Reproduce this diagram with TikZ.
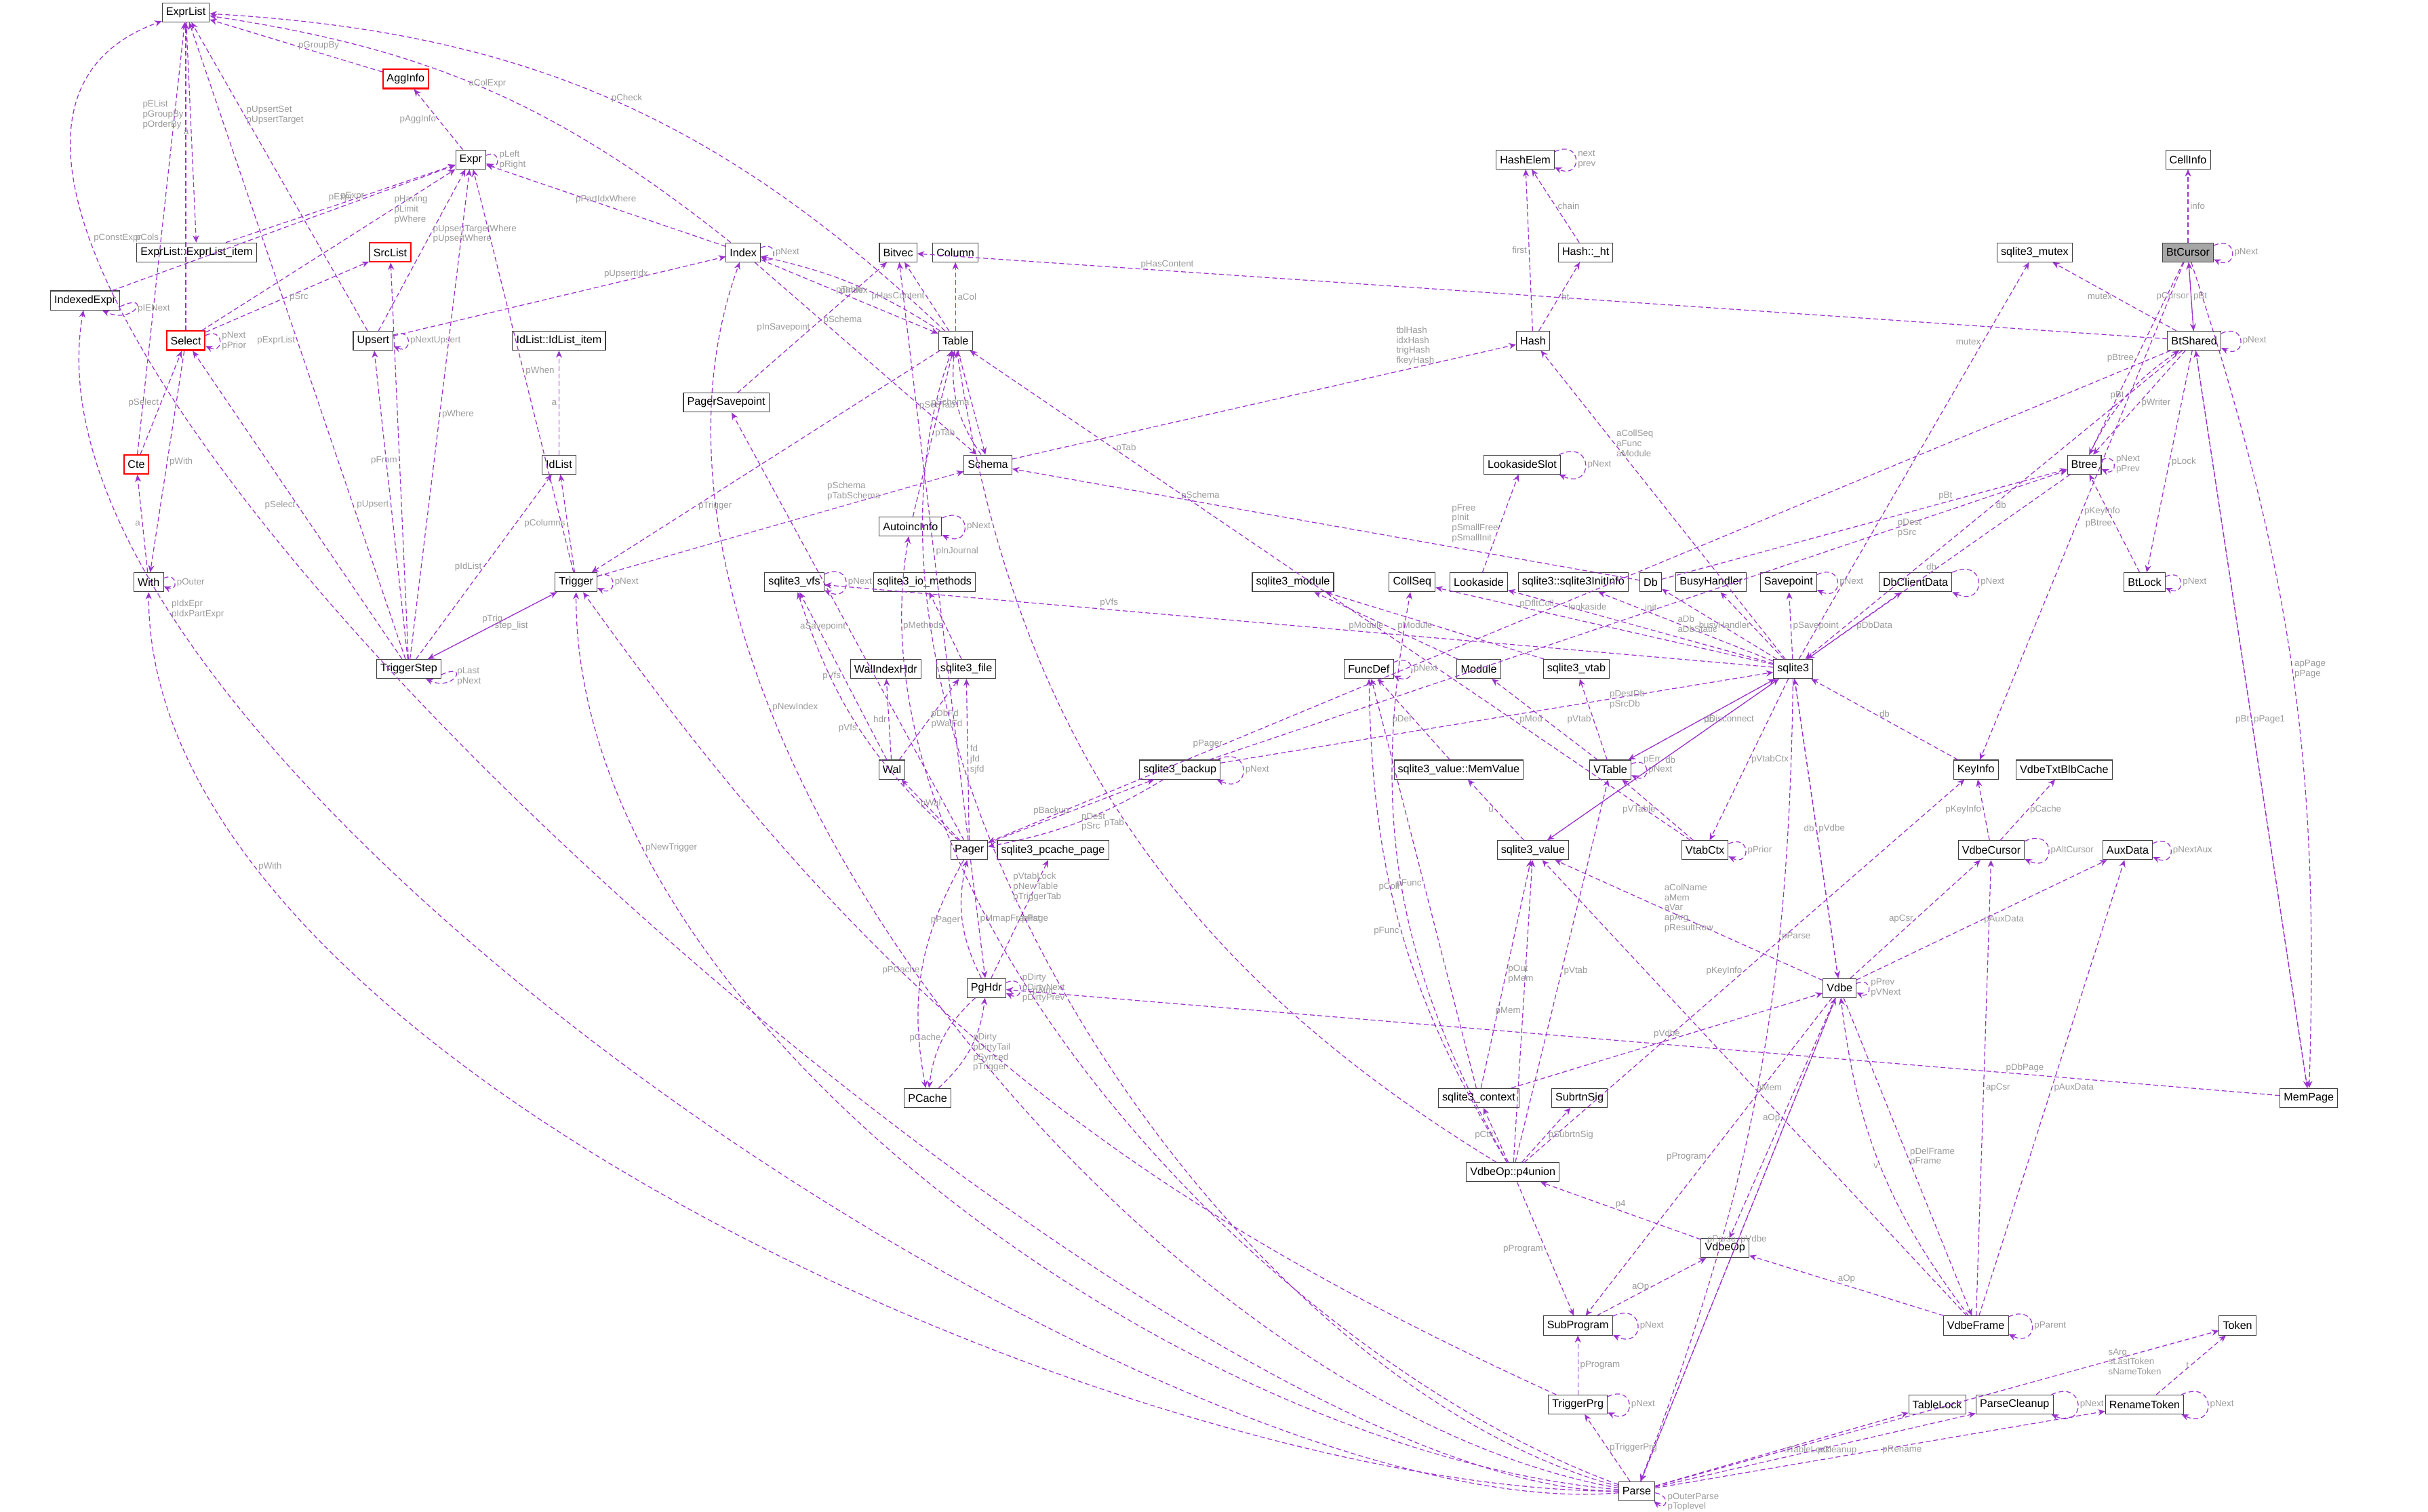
\documentclass[tikz,border=0pt]{standalone}
\usepackage{fontspec}
\setmainfont{Liberation Sans}
\usepackage{xcolor}
\usepackage{tikz}
\usetikzlibrary{arrows.meta}
\definecolor{edgec}{HTML}{9A32CD}
\definecolor{lblc}{HTML}{9A9A9A}
\tikzset{
  cls/.style={draw=black!75, fill=white, font=\fontsize{4.6}{5}\selectfont, inner sep=1.6pt, minimum height=8pt, line width=0.3pt},
  redcls/.style={cls, draw=red, line width=0.6pt},
  focus/.style={cls, fill=gray!70},
  dep/.style={draw=edgec, dashed, line width=0.35pt, dash pattern=on 2pt off 1.2pt, -{Stealth[length=3pt,width=2.6pt]}},
  lbl/.style={font=\fontsize{3.8}{4.2}\selectfont, text=lblc, inner sep=0.8pt, align=left},
  selfr/.style={out=25, in=-25, looseness=5},
}
\begin{document}
\begin{tikzpicture}[x=0.2284mm, y=-0.2284mm]
\useasboundingbox (0,0) rectangle (1568,976);
% nodes, left part
\node[cls] (exprlist) at (120,8) {ExprList};
\node[redcls] (agginfo) at (262,51) {AggInfo};
\node[cls] (expr) at (304,103) {Expr};
\node[cls] (exprlistitem) at (127,163) {ExprList::ExprList\_item};
\node[cls] (indexedexpr) at (55,194) {IndexedExpr};
\node[redcls] (srclist) at (252,163) {SrcList};
\node[redcls] (select) at (120,220) {Select};
\node[cls] (upsert) at (241,220) {Upsert};
\node[cls] (index) at (480,163) {Index};
\node[cls] (bitvec) at (580,163) {Bitvec};
\node[cls] (column) at (617,163) {Column};
\node[cls] (table) at (617,220) {Table};
\node[cls] (idlistitem) at (361,220) {IdList::IdList\_item};
\node[cls] (pagersavepoint) at (469,260) {PagerSavepoint};
\node[cls] (schema) at (638,300) {Schema};
\node[cls] (idlist) at (361,300) {IdList};
\node[redcls] (cte) at (88,300) {Cte};
\node[cls] (with) at (96,376) {With};
\node[cls] (trigger) at (372,376) {Trigger};
\node[cls] (triggerstep) at (264,432) {TriggerStep};
\node[cls] (autoincinfo) at (588,340) {AutoincInfo};
\node[cls] (vfs) at (513,376) {sqlite3\_vfs};
\node[cls] (iomethods) at (597,376) {sqlite3\_io\_methods};
\node[cls] (walindexhdr) at (572,432) {WalIndexHdr};
\node[cls] (file) at (624,432) {sqlite3\_file};
\node[cls] (wal) at (576,497) {Wal};
\node[cls] (pager) at (626,549) {Pager};
\node[cls] (pcachepage) at (680,549) {sqlite3\_pcache\_page};
\node[cls] (backup) at (762,497) {sqlite3\_backup};
\node[cls] (pghdr) at (637,638) {PgHdr};
\node[cls] (pcache) at (599,709) {PCache};
% nodes, middle part
\node[cls] (module) at (835,376) {sqlite3\_module};
\node[cls] (collseq) at (912,376) {CollSeq};
\node[cls] (lookaside) at (955,376) {Lookaside};
\node[cls] (initinfo) at (1016,376) {sqlite3::sqlite3InitInfo};
\node[cls] (db) at (1066,376) {Db};
\node[cls] (busyhandler) at (1105,376) {BusyHandler};
\node[cls] (savepoint) at (1155,376) {Savepoint};
\node[cls] (dbclientdata) at (1237,376) {DbClientData};
\node[cls] (funcdef) at (884,432) {FuncDef};
\node[cls] (vmodule) at (955,432) {Module};
\node[cls] (vtab) at (1018,432) {sqlite3\_vtab};
\node[cls] (sqlite) at (1158,432) {sqlite3};
\node[cls] (lookasideslot) at (983,300) {LookasideSlot};
\node[cls] (hashelem) at (985,103) {HashElem};
\node[cls] (hashht) at (1024,163) {Hash::\_ht};
\node[cls] (hash) at (990,220) {Hash};
\node[cls] (mutex) at (1314,163) {sqlite3\_mutex};
\node[focus] (btcursor) at (1413,163) {BtCursor};
\node[cls] (cellinfo) at (1413,103) {CellInfo};
\node[cls] (btshared) at (1417,220) {BtShared};
\node[cls] (btree) at (1346,300) {Btree};
\node[cls] (btlock) at (1385,376) {BtLock};
\node[cls] (vtable) at (1040,497) {VTable};
\node[cls] (memvalue) at (942,497) {sqlite3\_value::MemValue};
\node[cls] (vtabctx) at (1101,549) {VtabCtx};
\node[cls] (value) at (990,549) {sqlite3\_value};
\node[cls] (keyinfo) at (1276,497) {KeyInfo};
\node[cls] (txtblb) at (1333,497) {VdbeTxtBlbCache};
\node[cls] (vdbecursor) at (1286,549) {VdbeCursor};
\node[cls] (auxdata) at (1374,549) {AuxData};
\node[cls] (vdbe) at (1188,638) {Vdbe};
\node[cls] (mempage) at (1491,709) {MemPage};
\node[cls] (context) at (955,709) {sqlite3\_context};
\node[cls] (subrtnsig) at (1020,709) {SubrtnSig};
\node[cls] (p4union) at (977,757) {VdbeOp::p4union};
\node[cls] (vdbeop) at (1114,806) {VdbeOp};
\node[cls] (subprogram) at (1019,856) {SubProgram};
\node[cls] (vdbeframe) at (1276,856) {VdbeFrame};
\node[cls] (token) at (1445,856) {Token};
\node[cls] (triggerprg) at (1019,907) {TriggerPrg};
\node[cls] (tablelock) at (1251,907) {TableLock};
\node[cls] (parsecleanup) at (1301,907) {ParseCleanup};
\node[cls] (renametoken) at (1385,907) {RenameToken};
\node[cls] (parse) at (1057,963) {Parse};
% expression edges
\draw[dep] (cte) -- node[lbl,left]{pCols} (exprlist);
\draw[dep] (select) -- node[lbl,left,pos=0.7]{pEList\\pGroupBy\\pOrderBy} (exprlist);
\draw[dep] (index) to[bend right=15] node[lbl,above]{aColExpr} (exprlist);
\draw[dep] (table) to[bend right=20] node[lbl,right]{pCheck} (exprlist);
\draw[dep] (agginfo) -- node[lbl,right]{pGroupBy} (exprlist);
\draw[dep] (upsert) -- node[lbl,right,pos=0.7]{pUpsertSet\\pUpsertTarget} (exprlist);
\draw[dep] (exprlist) -- node[lbl,left]{a} (exprlistitem);
\draw[dep] (exprlistitem) -- node[lbl,above]{pExpr} (expr);
\draw[dep] (expr) -- node[lbl,left]{pAggInfo} (agginfo);
\draw[dep] (expr.15) to[selfr] node[lbl,right]{pLeft\\pRight} (expr.-15);
\draw[dep] (indexedexpr) -- node[lbl,above,pos=0.7]{pExpr} (expr);
\draw[dep] (indexedexpr.-10) to[selfr] node[lbl,right]{pIENext} (indexedexpr.-30);
\draw[dep] (select) -- node[lbl,right,pos=0.75]{pHaving\\pLimit\\pWhere} (expr);
\draw[dep] (select) -- node[lbl,right]{pSrc} (srclist);
\draw[dep] (select.15) to[selfr] node[lbl,right]{pNext\\pPrior} (select.-15);
\draw[dep] (select) -- node[lbl,right]{pWith} (with);
\draw[dep] (upsert) -- node[lbl,right,pos=0.6]{pUpsertTargetWhere\\pUpsertWhere} (expr);
\draw[dep] (upsert) -- node[lbl,above,pos=0.7]{pUpsertIdx} (index);
\draw[dep] (upsert.15) to[selfr] node[lbl,right]{pNextUpsert} (upsert.-15);
\draw[dep] (index) -- node[lbl,above]{pPartIdxWhere} (expr);
\draw[dep] (index.15) to[selfr] node[lbl,right]{pNext} (index.-15);
\draw[dep] (index) -- node[lbl,above]{pTable} (table);
\draw[dep] (index) -- node[lbl,right,pos=0.3]{pSchema} (schema);
\draw[dep] (table) to[bend right=10] node[lbl,below]{pIndex} (index);
\draw[dep] (table) -- node[lbl,left]{pSchema} (schema);
\draw[dep] (table) -- node[lbl,right]{aCol} (column);
\draw[dep] (table) -- node[lbl,right,pos=0.7]{pTrigger} (trigger);
\draw[dep] (table) -- node[lbl,left]{pHasContent} (bitvec);
\draw[dep] (schema) to[bend left=20] node[lbl,left]{pSeqTab} (table);
\draw[dep] (schema) -- node[lbl,above,pos=0.8]{tblHash\\idxHash\\trigHash\\fkeyHash} (hash);
\draw[dep] (trigger) -- node[lbl,right]{pWhen} (expr);
\draw[dep] (trigger) -- node[lbl,left]{pColumns} (idlist);
\draw[dep] (trigger) -- node[lbl,above,pos=0.7]{pSchema\\pTabSchema} (schema);
\draw[dep] (trigger) -- node[lbl,right]{step\_list} (triggerstep);
\draw[dep] (trigger.15) to[selfr] node[lbl,right]{pNext} (trigger.-15);
\draw[dep] (triggerstep) -- node[lbl,above]{pTrig} (trigger);
\draw[dep] (triggerstep.-10) to[selfr] node[lbl,right]{pLast\\pNext} (triggerstep.-30);
\draw[dep] (triggerstep) -- node[lbl,right]{pWhere} (expr);
\draw[dep] (triggerstep) -- node[lbl,left]{pExprList} (exprlist);
\draw[dep] (triggerstep) -- node[lbl,left]{pFrom} (srclist);
\draw[dep] (triggerstep) -- node[lbl,left]{pSelect} (select);
\draw[dep] (triggerstep) -- node[lbl,left]{pUpsert} (upsert);
\draw[dep] (triggerstep) -- node[lbl,left]{pIdList} (idlist);
\draw[dep] (idlist) -- node[lbl,left]{a} (idlistitem);
\draw[dep] (cte) -- node[lbl,left]{pSelect} (select);
\draw[dep] (with) -- node[lbl,left]{a} (cte);
\draw[dep] (with.15) to[selfr] node[lbl,right]{pOuter} (with.-15);
% pager edges
\draw[dep] (pagersavepoint) -- node[lbl,left]{pInSavepoint} (bitvec);
\draw[dep] (autoincinfo) -- node[lbl,right]{pTab} (table);
\draw[dep] (autoincinfo.15) to[selfr] node[lbl,right]{pNext} (autoincinfo.-15);
\draw[dep] (vfs.15) to[selfr] node[lbl,right]{pNext} (vfs.-15);
\draw[dep] (file) -- node[lbl,left]{pMethods} (iomethods);
\draw[dep] (wal) -- node[lbl,left]{pVfs} (vfs);
\draw[dep] (wal) -- node[lbl,left]{hdr} (walindexhdr);
\draw[dep] (wal) -- node[lbl,right]{pDbFd\\pWalFd} (file);
\draw[dep] (pager) -- node[lbl,above]{pWal} (wal);
\draw[dep] (pager) -- node[lbl,right]{fd\\jfd\\sjfd} (file);
\draw[dep] (pager) to[bend left=15] node[lbl,left]{pVfs} (vfs);
\draw[dep] (pager) -- node[lbl,left]{aSavepoint} (pagersavepoint);
\draw[dep] (pager) -- node[lbl,right]{pInJournal} (bitvec);
\draw[dep] (pager) -- node[lbl,left]{pBackup} (backup);
\draw[dep] (pager) -- node[lbl,right]{pMmapFreelist} (pghdr);
\draw[dep] (pager) to[bend right=20] node[lbl,left]{pPCache} (pcache);
\draw[dep] (pghdr) to[bend left=20] node[lbl,left]{pPager} (pager);
\draw[dep] (pghdr) -- node[lbl,right]{pPage} (pcachepage);
\draw[dep] (pghdr.15) to[selfr] node[lbl,right]{pDirty\\pDirtyNext\\pDirtyPrev} (pghdr.-15);
\draw[dep] (pghdr) to[bend right=20] node[lbl,left]{pCache} (pcache);
\draw[dep] (pcache) to[bend right=20] node[lbl,right]{pDirty\\pDirtyTail\\pSynced} (pghdr);
\draw[dep] (backup) to[bend left=10] node[lbl,right]{pDest\\pSrc} (pager);
\draw[dep] (backup) -- node[lbl,right,pos=0.7]{pDestDb\\pSrcDb} (sqlite);
\draw[dep] (backup.15) to[selfr] node[lbl,right]{pNext} (backup.-15);
\draw[dep] (backup) -- node[lbl,right,pos=0.8]{pDest\\pSrc} (btree);
% sqlite3 edges
\draw[dep] (sqlite) -- node[lbl,above,pos=0.7]{pVfs} (vfs);
\draw[dep] (sqlite) -- node[lbl,above,pos=0.7]{pDfltColl} (collseq);
\draw[dep] (sqlite) -- node[lbl,above,pos=0.7]{lookaside} (lookaside);
\draw[dep] (sqlite) -- node[lbl,above,pos=0.7]{init} (initinfo);
\draw[dep] (sqlite) -- node[lbl,left]{aDb\\aDbStatic} (db);
\draw[dep] (sqlite) -- node[lbl,left]{busyHandler} (busyhandler);
\draw[dep] (sqlite) -- node[lbl,right]{pSavepoint} (savepoint);
\draw[dep] (sqlite) -- node[lbl,right]{pDbData} (dbclientdata);
\draw[dep] (sqlite) -- node[lbl,right,pos=0.7]{aCollSeq\\aFunc\\aModule} (hash);
\draw[dep] (sqlite) -- node[lbl,left,pos=0.8]{mutex} (mutex);
\draw[dep] (sqlite) -- node[lbl,right]{pDisconnect} (vtable);
\draw[dep] (sqlite) -- node[lbl,right]{pVtabCtx} (vtabctx);
\draw[dep] (sqlite) -- node[lbl,left]{pErr} (value);
\draw[dep] (sqlite) -- node[lbl,right]{pVdbe} (vdbe);
\draw[dep] (sqlite) to[bend left=10] node[lbl,right,pos=0.3]{pParse} (parse);
\draw[dep] (savepoint.15) to[selfr] node[lbl,right]{pNext} (savepoint.-15);
\draw[dep] (dbclientdata.15) to[selfr] node[lbl,right]{pNext} (dbclientdata.-15);
\draw[dep] (db) -- node[lbl,above,pos=0.7]{pBt} (btree);
\draw[dep] (db) -- node[lbl,above,pos=0.7]{pSchema} (schema);
\draw[dep] (lookaside) -- node[lbl,left]{pFree\\pInit\\pSmallFree\\pSmallInit} (lookasideslot);
\draw[dep] (lookasideslot.15) to[selfr] node[lbl,right]{pNext} (lookasideslot.-15);
\draw[dep] (hashelem.15) to[selfr] node[lbl,right]{next\\prev} (hashelem.-15);
\draw[dep] (hashht) -- node[lbl,right]{chain} (hashelem);
\draw[dep] (hash) -- node[lbl,left]{first} (hashelem);
\draw[dep] (hash) -- node[lbl,right]{ht} (hashht);
\draw[dep] (vmodule) -- node[lbl,left]{pModule} (module);
\draw[dep] (vtable) -- node[lbl,left]{pMod} (vmodule);
\draw[dep] (vtable) -- node[lbl,left]{pVtab} (vtab);
\draw[dep] (vtable) -- node[lbl,right]{db} (sqlite);
\draw[dep] (vtable.15) to[selfr] node[lbl,right]{pNext} (vtable.-15);
\draw[dep] (vtab) -- node[lbl,left]{pModule} (module);
\draw[dep] (vtabctx) -- node[lbl,left]{pVTable} (vtable);
\draw[dep] (vtabctx) -- node[lbl,right,pos=0.8]{pTab} (table);
\draw[dep] (vtabctx.15) to[selfr] node[lbl,right]{pPrior} (vtabctx.-15);
\draw[dep] (funcdef.15) to[selfr] node[lbl,right]{pNext} (funcdef.-15);
\draw[dep] (memvalue) -- node[lbl,left]{pDef} (funcdef);
\draw[dep] (value) -- node[lbl,left]{u} (memvalue);
\draw[dep] (value) -- node[lbl,right]{db} (sqlite);
% vdbe edges
\draw[dep] (context) -- node[lbl,left]{pFunc} (funcdef);
\draw[dep] (context) -- node[lbl,right]{pOut\\pMem} (value);
\draw[dep] (context) -- node[lbl,above]{pVdbe} (vdbe);
\draw[dep] (p4union) to[bend left=15] node[lbl,left]{pFunc} (funcdef);
\draw[dep] (p4union) to[bend left=20] node[lbl,left]{pColl} (collseq);
\draw[dep] (p4union) -- node[lbl,left]{pMem} (value);
\draw[dep] (p4union) -- node[lbl,right]{pVtab} (vtable);
\draw[dep] (p4union) -- node[lbl,left]{pKeyInfo} (keyinfo);
\draw[dep] (p4union) -- node[lbl,left]{pCtx} (context);
\draw[dep] (p4union) -- node[lbl,right]{pSubrtnSig} (subrtnsig);
\draw[dep] (p4union) -- node[lbl,left]{pProgram} (subprogram);
\draw[dep] (p4union) to[bend left=25] node[lbl,left]{pTab} (table);
\draw[dep] (vdbeop) -- node[lbl,above]{p4} (p4union);
\draw[dep] (subprogram) -- node[lbl,left]{aOp} (vdbeop);
\draw[dep] (subprogram.15) to[selfr] node[lbl,right]{pNext} (subprogram.-15);
\draw[dep] (triggerprg) -- node[lbl,right]{pProgram} (subprogram);
\draw[dep] (triggerprg.15) to[selfr] node[lbl,right]{pNext} (triggerprg.-15);
\draw[dep] (triggerprg) to[bend left=15] node[lbl,left]{pTrigger} (trigger);
\draw[dep] (vdbe) -- node[lbl,left]{db} (sqlite);
\draw[dep] (vdbe.15) to[selfr] node[lbl,right]{pPrev\\pVNext} (vdbe.-15);
\draw[dep] (vdbe) -- node[lbl,right,pos=0.6]{aColName\\aMem\\aVar\\apArg\\pResultRow} (value);
\draw[dep] (vdbe) -- node[lbl,left]{apCsr} (vdbecursor);
\draw[dep] (vdbe) -- node[lbl,right]{pAuxData} (auxdata);
\draw[dep] (vdbe) -- node[lbl,left]{aOp} (vdbeop);
\draw[dep] (vdbe) -- node[lbl,left]{pProgram} (subprogram);
\draw[dep] (vdbe) -- node[lbl,right]{pDelFrame\\pFrame} (vdbeframe);
\draw[dep] (vdbe) -- node[lbl,left]{pParse} (parse);
\draw[dep] (vdbeframe) to[bend left=15] node[lbl,left]{v} (vdbe);
\draw[dep] (vdbeframe.15) to[selfr] node[lbl,right]{pParent} (vdbeframe.-15);
\draw[dep] (vdbeframe) -- node[lbl,right]{aMem} (value);
\draw[dep] (vdbeframe) -- node[lbl,right]{apCsr} (vdbecursor);
\draw[dep] (vdbeframe) -- node[lbl,right]{pAuxData} (auxdata);
\draw[dep] (vdbeframe) -- node[lbl,above]{aOp} (vdbeop);
\draw[dep] (vdbecursor) -- node[lbl,left]{pKeyInfo} (keyinfo);
\draw[dep] (vdbecursor) -- node[lbl,right]{pCache} (txtblb);
\draw[dep] (vdbecursor.15) to[selfr] node[lbl,right]{pAltCursor} (vdbecursor.-15);
\draw[dep] (auxdata.15) to[selfr] node[lbl,right]{pNextAux} (auxdata.-15);
\draw[dep] (keyinfo) -- node[lbl,above]{db} (sqlite);
% parse edges
\draw[dep] (parse) to[out=180, in=200, looseness=0.6] node[lbl,right,pos=0.8]{pConstExpr} (exprlist);
\draw[dep] (parse) to[out=185, in=260, looseness=0.6] node[lbl,right,pos=0.8]{pIdxEpr\\pIdxPartExpr} (indexedexpr);
\draw[dep] (parse) to[out=180, in=270, looseness=0.7] node[lbl,right,pos=0.8]{pWith} (with);
\draw[dep] (parse) to[out=175, in=270, looseness=0.8] node[lbl,right,pos=0.8]{pNewTrigger} (trigger);
\draw[dep] (parse) to[out=170, in=250, looseness=0.8] node[lbl,right,pos=0.7]{pNewIndex} (index);
\draw[dep] (parse) to[out=165, in=250, looseness=0.8] node[lbl,right,pos=0.6]{pVtabLock\\pNewTable\\pTriggerTab} (table);
\draw[dep] (parse) to[out=160, in=260, looseness=0.8] node[lbl,right,pos=0.6]{pAinc} (autoincinfo);
\draw[dep] (parse) -- node[lbl,right]{pVdbe} (vdbe);
\draw[dep] (parse) -- node[lbl,right]{pTriggerPrg} (triggerprg);
\draw[dep] (parse.-5) to[out=-10, in=-40, looseness=5] node[lbl,right]{pOuterParse\\pToplevel} (parse.-30);
\draw[dep] (parse) -- node[lbl,right]{aTableLock} (tablelock);
\draw[dep] (parse) -- node[lbl,right]{pCleanup} (parsecleanup);
\draw[dep] (parse) -- node[lbl,right]{pRename} (renametoken);
\draw[dep] (parse) -- node[lbl,right,pos=0.8]{sArg\\sLastToken\\sNameToken} (token);
\draw[dep] (parsecleanup.15) to[selfr] node[lbl,right]{pNext} (parsecleanup.-15);
\draw[dep] (renametoken.15) to[selfr] node[lbl,right]{pNext} (renametoken.-15);
\draw[dep] (renametoken) -- node[lbl,left]{t} (token);
% btree edges
\draw[dep] (btcursor) -- node[lbl,right]{info} (cellinfo);
\draw[dep] (btcursor) -- node[lbl,right]{pBt} (btshared);
\draw[dep] (btcursor) -- node[lbl,left]{pBtree} (btree);
\draw[dep] (btcursor) -- node[lbl,right]{pKeyInfo} (keyinfo);
\draw[dep] (btcursor) to[bend left=10] node[lbl,right]{apPage\\pPage} (mempage);
\draw[dep] (btcursor.15) to[selfr] node[lbl,right]{pNext} (btcursor.-15);
\draw[dep] (btshared) -- node[lbl,left]{mutex} (mutex);
\draw[dep] (btshared) -- node[lbl,left]{pCursor} (btcursor);
\draw[dep] (btshared) -- node[lbl,above,pos=0.8]{pHasContent} (bitvec);
\draw[dep] (btshared) -- node[lbl,right]{db} (sqlite);
\draw[dep] (btshared) -- node[lbl,left,pos=0.8]{pPager} (pager);
\draw[dep] (btshared) -- node[lbl,right]{pPage1} (mempage);
\draw[dep] (btshared) -- node[lbl,right]{pWriter} (btree);
\draw[dep] (btshared) -- node[lbl,right]{pLock} (btlock);
\draw[dep] (btshared.15) to[selfr] node[lbl,right]{pNext} (btshared.-15);
\draw[dep] (btree) to[bend left=15] node[lbl,left]{pBt} (btshared);
\draw[dep] (btree) -- node[lbl,left]{db} (sqlite);
\draw[dep] (btree.15) to[selfr] node[lbl,right]{pNext\\pPrev} (btree.-15);
\draw[dep] (btlock) -- node[lbl,left]{pBtree} (btree);
\draw[dep] (btlock.15) to[selfr] node[lbl,right]{pNext} (btlock.-15);
\draw[dep] (mempage) -- node[lbl,left]{pBt} (btshared);
\draw[dep] (mempage) -- node[lbl,above,pos=0.2]{pDbPage} (pghdr);
\end{tikzpicture}
\end{document}
